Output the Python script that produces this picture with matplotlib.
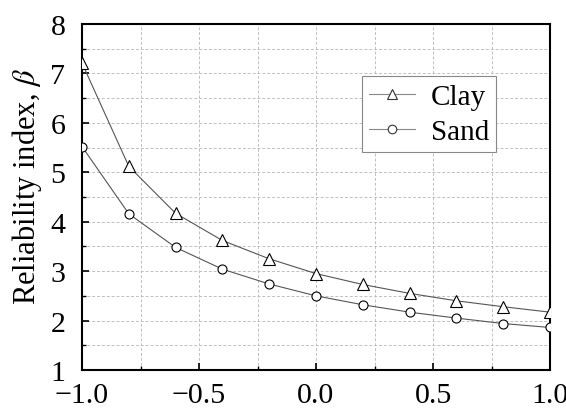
import matplotlib
matplotlib.use("Agg")
import matplotlib.pyplot as plt
from matplotlib.ticker import MultipleLocator, FuncFormatter

x = [-1.0, -0.8, -0.6, -0.4, -0.2, 0.0, 0.2, 0.4, 0.6, 0.8, 1.0]
clay = [7.21, 5.12, 4.17, 3.62, 3.25, 2.95, 2.73, 2.55, 2.40, 2.28, 2.17]
sand = [5.52, 4.16, 3.48, 3.04, 2.74, 2.50, 2.32, 2.17, 2.05, 1.94, 1.86]

plt.rcParams['font.family'] = 'serif'
plt.rcParams['font.serif'] = ['Liberation Serif']
plt.rcParams['mathtext.fontset'] = 'stix'

fig = plt.figure(figsize=(5.66, 4.10), dpi=100)
ax = fig.add_axes([82/566, 1 - 371/410, (550-82)/566, (371-25)/410])

ax.plot(x, clay, color='#555555', lw=0.8, marker='^', ms=8, mfc='white',
        mec='black', mew=0.8, label='Clay', zorder=3)
ax.plot(x, sand, color='#555555', lw=0.8, marker='o', ms=6.5, mfc='white',
        mec='black', mew=0.8, label='Sand', zorder=3)

ax.set_xlim(-1.0, 1.0)
ax.set_ylim(1, 8)
ax.xaxis.set_major_locator(MultipleLocator(0.5))
ax.xaxis.set_minor_locator(MultipleLocator(0.25))
ax.yaxis.set_major_locator(MultipleLocator(1))
ax.yaxis.set_minor_locator(MultipleLocator(0.5))
ax.xaxis.set_major_formatter(FuncFormatter(
    lambda v, p: ('\u2212' if v < 0 else '') + f"{abs(v):.1f}"))
ax.tick_params(which='both', direction='in', labelsize=21.5, top=False, right=False)
ax.tick_params(which='major', length=5, width=1.2)
ax.tick_params(which='minor', length=3, width=1.0)
ax.tick_params(axis='x', pad=8.5)
ax.tick_params(axis='y', pad=12)
ax.grid(True, which='both', color='#c0c0c0', ls=(0, (3, 2)), lw=0.7)
for s in ax.spines.values():
    s.set_linewidth(1.5)

ax.set_ylabel('Reliability index, $\\beta$', fontsize=22)
ax.yaxis.set_label_coords((44-82)/468, (371-186)/346)

leg = ax.legend(loc='upper left', bbox_to_anchor=((362-82)/468, 1 - (77-25)/346),
                fontsize=21, fancybox=False, framealpha=1, edgecolor='#888888',
                markerscale=0.95, handlelength=1.55, borderpad=0.25,
                labelspacing=0.3, handletextpad=0.55, borderaxespad=0)
leg.get_frame().set_linewidth(0.8)
for h in leg.get_lines():
    h.set_color('#888888')
    h.set_markeredgecolor('#333333')

fig.savefig('out.png', dpi=100)
